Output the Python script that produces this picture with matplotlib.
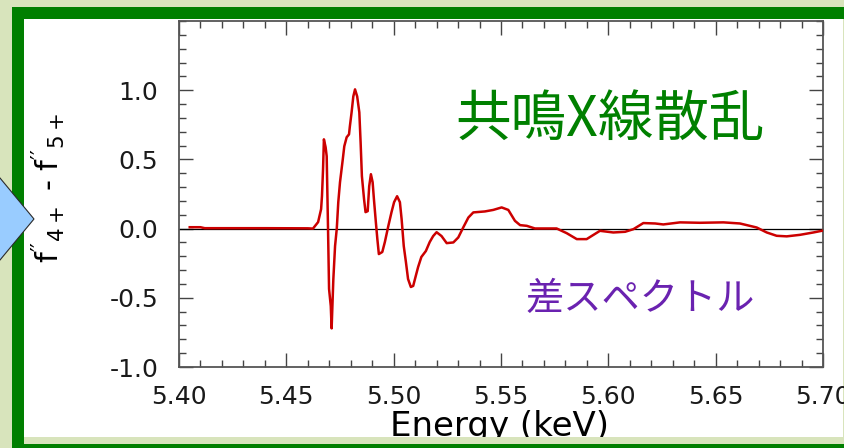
import matplotlib.pyplot as plt
from matplotlib.patches import Rectangle, Polygon
from matplotlib.ticker import MultipleLocator, FormatStrFormatter

# difference spectrum f''(4+) - f''(5+) vs photon energy
energy = [5.405, 5.410, 5.412, 5.440, 5.460, 5.4624, 5.4648, 5.4662, 5.4666, 5.4671,
          5.4675, 5.4683, 5.4688, 5.4694, 5.4699, 5.4707, 5.4711, 5.4719, 5.4727, 5.4735,
          5.4742, 5.4750, 5.4763, 5.4770, 5.4781, 5.4792, 5.4796, 5.4804, 5.4812, 5.4820,
          5.4830, 5.4840, 5.4846, 5.4852, 5.4862, 5.4869, 5.4879, 5.4886, 5.4894, 5.4902,
          5.4908, 5.4917, 5.4924, 5.4931, 5.4947, 5.4959, 5.4975, 5.4990, 5.5002, 5.5016,
          5.5029, 5.5037, 5.5047, 5.5057, 5.5067, 5.5080, 5.5091, 5.5103, 5.5114, 5.5129,
          5.5150, 5.5168, 5.5184, 5.5200, 5.5223, 5.5247, 5.5278, 5.5301, 5.5324, 5.5348,
          5.5371, 5.5425, 5.5464, 5.5503, 5.5534, 5.5565, 5.5589, 5.5620, 5.5658, 5.5759,
          5.5806, 5.5853, 5.5899, 5.5961, 5.6023, 5.6078, 5.6117, 5.6163, 5.6218, 5.6256,
          5.6334, 5.6427, 5.6536, 5.6613, 5.6691, 5.6738, 5.6784, 5.6831, 5.6893, 5.6955,
          5.6994]
diff = [0.010, 0.010, 0.003, 0.003, 0.002, 0.000, 0.047, 0.141, 0.234, 0.429,
        0.645, 0.588, 0.523, 0.018, -0.436, -0.559, -0.721, -0.365, -0.126, 0.000,
        0.191, 0.335, 0.501, 0.595, 0.660, 0.681, 0.739, 0.840, 0.955, 1.006,
        0.955, 0.840, 0.624, 0.379, 0.213, 0.119, 0.126, 0.306, 0.393, 0.335,
        0.213, 0.047, -0.076, -0.184, -0.169, -0.097, 0.018, 0.119, 0.191, 0.234,
        0.191, 0.069, -0.126, -0.241, -0.364, -0.422, -0.414, -0.342, -0.277, -0.205,
        -0.162, -0.097, -0.054, -0.026, -0.054, -0.105, -0.100, -0.064, 0.008, 0.080,
        0.117, 0.124, 0.135, 0.153, 0.135, 0.056, 0.025, 0.020, 0.001, 0.001,
        -0.033, -0.076, -0.076, -0.016, -0.028, -0.023, -0.004, 0.040, 0.037, 0.030,
        0.045, 0.042, 0.045, 0.037, 0.008, -0.028, -0.052, -0.056, -0.045, -0.028,
        -0.016]

title_jp = "共鳴X線散乱"
label_jp = "差スペクトル"

W, H = 844, 448
plt.rcParams['font.family'] = ['DejaVu Sans']

fig = plt.figure(figsize=(W / 100, H / 100), dpi=100, facecolor='#d8e4bc')


def px_rect(x0, y0, x1, y1, color, z):
    # box given in pixels from the top-left corner
    r = Rectangle((x0 / W, 1 - y1 / H), (x1 - x0) / W, (y1 - y0) / H,
                  transform=fig.transFigure, facecolor=color, edgecolor='none', zorder=z)
    fig.add_artist(r)


# slide frame
px_rect(12, 7, 850, 455, '#007f00', -3)
px_rect(24, 19, 850, 444, '#d8e4bc', -2)
px_rect(24, 19, 843, 437, 'white', -1)

ax = fig.add_axes([179 / W, 1 - 367 / H, 644 / W, 346 / H])
ax.set_facecolor('none')

ax.axhline(0, color='black', lw=0.9, zorder=2)
ax.plot(energy, diff, color='#cc0000', lw=1.8, zorder=3)

ax.set_xlim(5.40, 5.70)
ax.set_ylim(-1.0, 1.5)
ax.xaxis.set_major_locator(MultipleLocator(0.05))
ax.xaxis.set_minor_locator(MultipleLocator(0.01))
ax.xaxis.set_major_formatter(FormatStrFormatter('%.2f'))
ax.set_yticks([-1.0, -0.5, 0.0, 0.5, 1.0])
ax.yaxis.set_minor_locator(MultipleLocator(0.1))
ax.yaxis.set_major_formatter(FormatStrFormatter('%.1f'))

for s in ax.spines.values():
    s.set_color('#555555')
    s.set_linewidth(1.3)
ax.tick_params(which='both', direction='in', top=True, right=True,
               color='#444444', width=1.0, labelsize=18, labelcolor='#1a1a1a')
ax.tick_params(which='major', length=10)
ax.tick_params(which='minor', length=5)
ax.tick_params(axis='x', pad=13)
ax.tick_params(axis='y', pad=15)

fig.text(499 / W, 1 - 436 / H, 'Energy (keV)', fontsize=24.5, ha='center', va='baseline')
fig.text(48 / W, 1 - 188 / H,
         r"$\mathregular{f''_{4+}}$ - $\mathregular{f''_{5+}}$", fontsize=22,
         rotation=90, ha='center', va='center')

fig.text(610 / W, 1 - 120 / H, title_jp, fontsize=40, color='#008000',
         family=['Noto Sans CJK JP', 'DejaVu Sans'], ha='center', va='center')
fig.text(640 / W, 1 - 299 / H, label_jp, fontsize=27.5, color='#6a22b0',
         family=['Noto Sans CJK JP', 'DejaVu Sans'], ha='center', va='center')

# bottom strip of the frame sits over the axis title
px_rect(24, 437, 850, 444, '#d8e4bc', 10)
px_rect(12, 444, 850, 455, '#007f00', 10)

arrow = Polygon([(-10 / W, 1 - 168 / H), (0, 1 - 178 / H), (34 / W, 1 - 219 / H),
                 (0, 1 - 260 / H), (-10 / W, 1 - 270 / H)],
                closed=True, transform=fig.transFigure, facecolor='#99ccff',
                edgecolor='#2a2a2a', lw=0.8, zorder=11)
fig.add_artist(arrow)

fig.savefig('out.png', dpi=100, facecolor=fig.get_facecolor())
